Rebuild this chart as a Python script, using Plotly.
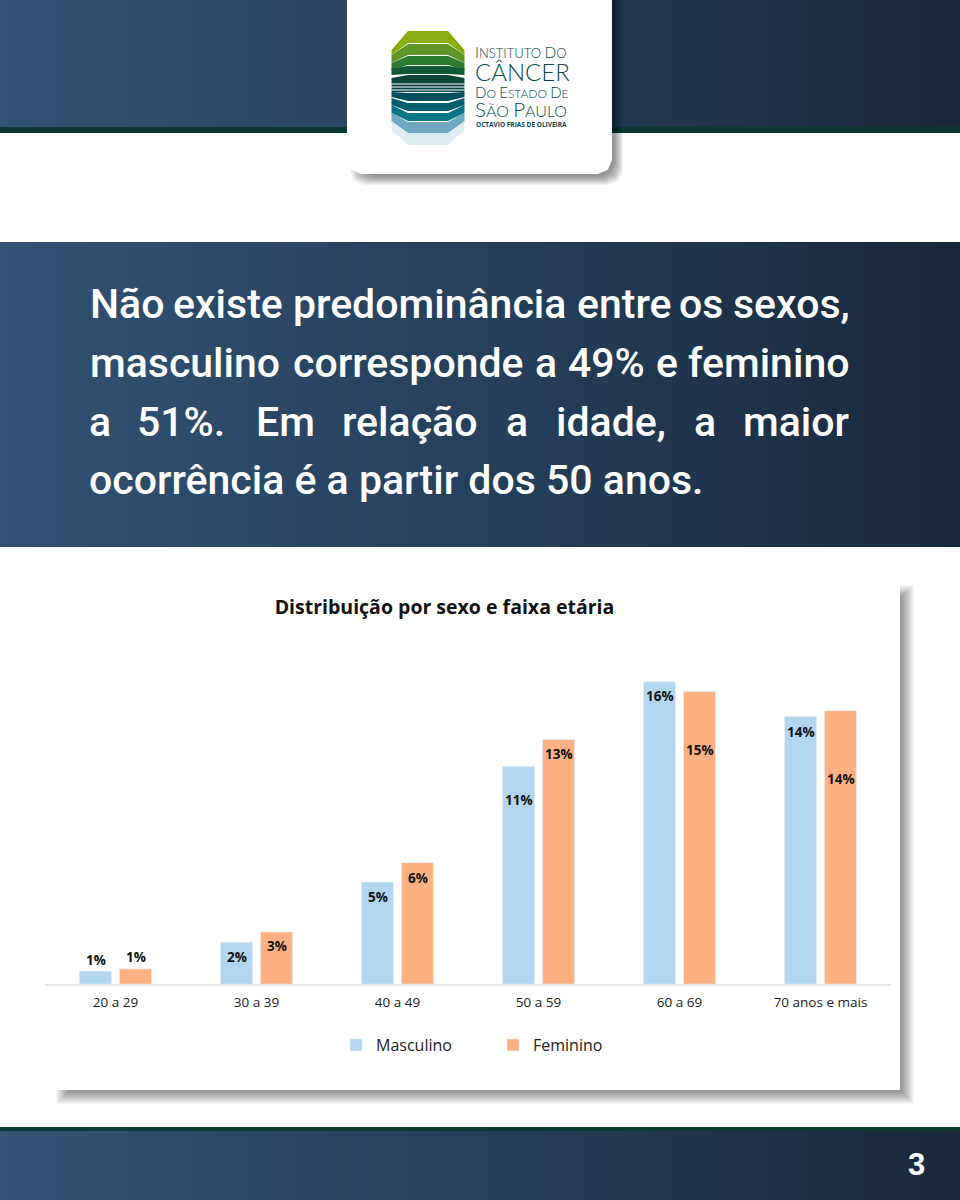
import plotly.graph_objects as go

# chart values (percent)
age_groups = ['20 a 29', '30 a 39', '40 a 49', '50 a 59', '60 a 69', '70 anos e mais']
male_pct = [0.67, 2.17, 5.3, 11.3, 15.7, 13.9]
female_pct = [0.78, 2.7, 6.3, 12.7, 15.2, 14.2]

# how far each data label sits under its bar top, in pixels (hand placed in the original)
male_label_drop = [-11, 15, 15, 33, 14, 15]
female_label_drop = [-12, 14, 15, 14, 59, 68]

# headline is justified in the original, so words are placed one by one
line1_words = ['Não', 'existe', 'predominância', 'entre', 'os', 'sexos,']
line1_x = [89, 172, 292, 576, 678, 732]
line2_words = ['masculino', 'corresponde', 'a', '49%', 'e', 'feminino']
line2_x = [89, 292, 534, 567, 655, 687]
line3_words = ['a', '51%.', 'Em', 'relação', 'a', 'idade,', 'a', 'maior']
line3_x = [88, 136, 255, 341, 505, 555, 693, 742]
headline_last = 'ocorrência é a partir dos 50 anos.'

W, H = 960, 1200
MALE_COLOR = '#b2d6f0'
FEMALE_COLOR = '#fdb183'
GREEN_LINE = '#0b3a33'
LOGO_TEXT = '#0a4a4e'


def px(x):
    return x / W


def py(y):
    return 1 - y / H


def rect(x0, y0, x1, y1, color, opacity=1.0):
    return dict(type='rect', xref='paper', yref='paper', layer='below',
                x0=px(x0), x1=px(x1), y0=py(y0), y1=py(y1),
                fillcolor=color, opacity=opacity, line_width=0)


def polygon(points, color):
    path = 'M' + ' L'.join(f'{px(x):.5f},{py(y):.5f}' for x, y in points) + ' Z'
    return dict(type='path', xref='paper', yref='paper', layer='below', path=path,
                fillcolor=color, line_width=0)


def rounded_card(x0, y0, x1, y1, r, color, opacity=1.0):
    pts = [(x0, y0), (x1, y0), (x1, y1 - r), (x1 - 0.3 * r, y1 - 0.3 * r), (x1 - r, y1),
           (x0 + r, y1), (x0 + 0.3 * r, y1 - 0.3 * r), (x0, y1 - r)]
    shape = polygon(pts, color)
    shape['opacity'] = opacity
    return shape


def gradient_band(y0, y1):
    # plotly shapes have no gradient fill, so use thin strips
    left = (50, 82, 115)
    mid = (38, 64, 92)
    right = (25, 40, 60)
    strips = []
    step = 8
    for x in range(0, W, step):
        t = x / W
        if t < 0.5:
            c = [left[i] + (mid[i] - left[i]) * t * 2 for i in range(3)]
        else:
            c = [mid[i] + (right[i] - mid[i]) * (t - 0.5) * 2 for i in range(3)]
        strips.append(rect(x, y0, x + step + 0.5, y1, 'rgb(%d,%d,%d)' % tuple(c)))
    return strips


shapes = []
shapes += gradient_band(0, 127)
shapes.append(rect(0, 127, W, 133, GREEN_LINE))
shapes += gradient_band(242, 547)
shapes.append(rect(0, 1127, W, 1131, GREEN_LINE))
shapes += gradient_band(1131, 1200)

# logo card and its shadow
for i in range(10):
    shapes.append(rounded_card(350 + i, 0, 623 - i, 185 - i, 14, '#000000', 0.05))
shapes.append(rounded_card(347, 0, 612, 174, 14, '#ffffff'))

# logo mark: flat y top/bottom, outer y top/bottom, colour
logo_upper = [
    (31, 43, 50, 55, '#8bab12'),
    (44, 55, 55, 63, '#5f9726'),
    (56, 65, 63, 70, '#2c7a30'),
    (66, 74, 68.5, 75, '#0f5a32'),
    (75, 83.5, 78, 83.5, '#0a4434'),
]
logo_lower = [
    (84.5, 86.5, 84.5, 86.5, '#0a3f3b'),
    (87.5, 89.5, 87.5, 89.5, '#07484c'),
    (90.5, 92, 90.5, 92, '#07484f'),
    (93, 101, 92, 97, '#064f5c'),
    (103, 111, 98, 105, '#05606f'),
    (113, 121, 105, 113, '#0a7488'),
    (122, 133, 113, 122, '#6ea9c1'),
    (133, 145, 121, 130, '#dfecf0'),
]
for ft, fb, ot, ob, color in logo_upper:
    shapes.append(polygon([(408, ft), (448, ft), (464.5, ot), (464.5, ob), (448, fb),
                           (408, fb), (391.5, ob), (391.5, ot)], color))
for ft, fb, ot, ob, color in logo_lower:
    shapes.append(polygon([(391.5, ot), (408, ft), (448, ft), (464.5, ot), (464.5, ob),
                           (448, fb), (408, fb), (391.5, ob)], color))

# chart card and its shadow
for i in range(13):
    shapes.append(rect(56 + i, 585 + i, 914 - i, 1104 - i, '#000000', 0.035))
shapes.append(rect(53, 578, 900, 1090, '#ffffff'))


def text(x, y, s, size, color='#ffffff', family='Roboto', anchor='left', weight=None, **kw):
    font = dict(family=family, size=size, color=color)
    if weight:
        font['weight'] = weight
    return dict(text=s, x=px(x), y=py(y), xref='paper', yref='paper', xanchor=anchor,
                yanchor='middle', showarrow=False, font=font, borderpad=0, **kw)


annotations = []
for words, xs, y in ((line1_words, line1_x, 304), (line2_words, line2_x, 363), (line3_words, line3_x, 422)):
    for word, x in zip(words, xs):
        annotations.append(text(x, y, word, 41, weight=500))
annotations.append(text(88, 480, headline_last, 41, weight=500))
annotations.append(text(916, 1164, '3', 31, family='Liberation Sans', anchor='center', weight=700))

# logo lettering
small = '<span style="font-size:%dpx">%s</span>'
annotations.append(text(474, 52, 'I' + small % (13, 'NSTITUTO ') + 'D' + small % (13, 'O'),
                        15.5, LOGO_TEXT, 'Lato', weight=300))
annotations.append(text(474, 71, 'CÂNCER', 24, LOGO_TEXT, 'Lato', weight=300))
annotations.append(text(474, 92, 'D' + small % (12, 'O ') + 'E' + small % (12, 'STADO ') + 'D' + small % (12, 'E'),
                        15, LOGO_TEXT, 'Lato', weight=300))
annotations.append(text(474, 109, 'S' + small % (16.5, 'ÃO ') + 'P' + small % (16.5, 'AULO'),
                        20.5, LOGO_TEXT, 'Lato', weight=300))
annotations.append(text(475, 124.5, 'OCTAVIO FRIAS DE OLIVEIRA', 6.5, LOGO_TEXT, 'Open Sans', weight=700))

# data labels
for series, drops, shift in ((male_pct, male_label_drop, -20), (female_pct, female_label_drop, 20)):
    for cat, value, drop in zip(age_groups, series, drops):
        annotations.append(dict(text=f'{round(value)}%', x=cat, y=value, xref='x', yref='y',
                                xshift=shift, yshift=-drop, yanchor='middle', showarrow=False,
                                font=dict(family='Open Sans', size=13.5, color='#111111', weight=700)))

fig = go.Figure()
fig.add_trace(go.Bar(x=age_groups, y=male_pct, name='Masculino', marker_color=MALE_COLOR))
fig.add_trace(go.Bar(x=age_groups, y=female_pct, name='Feminino', marker_color=FEMALE_COLOR))

fig.update_layout(
    width=W, height=H,
    margin=dict(l=0, r=0, t=0, b=0),
    paper_bgcolor='#ffffff', plot_bgcolor='rgba(0,0,0,0)',
    barmode='group', bargap=0.433, bargroupgap=0.2,
    shapes=shapes, annotations=annotations,
    title=dict(text='<b>Distribuição por sexo e faixa etária</b>', x=px(444.5), y=py(607),
               xanchor='center', yanchor='middle', xref='paper', yref='paper',
               font=dict(family='Open Sans', size=19.5, color='#111111')),
    legend=dict(orientation='h', x=px(336), y=py(1045), xanchor='left', yanchor='middle',
                entrywidth=112, entrywidthmode='pixels',
                font=dict(family='Open Sans', size=16, color='#222222'),
                bgcolor='rgba(0,0,0,0)'),
    font=dict(family='Open Sans'),
)
fig.update_xaxes(domain=[px(45), px(891)], showline=True, linecolor='#e4e4e4', linewidth=1.5,
                 showgrid=False, ticks='', ticklabelstandoff=5,
                 tickfont=dict(family='Open Sans', size=13.5, color='#222222'))
fig.update_yaxes(domain=[py(984), py(637.6)], range=[0, 18], visible=False, showgrid=False)

# default page margin would shift the 960x1200 figure
fig.write_html("out.html", config={'displayModeBar': False},
               post_script="document.body.style.margin='0';")
